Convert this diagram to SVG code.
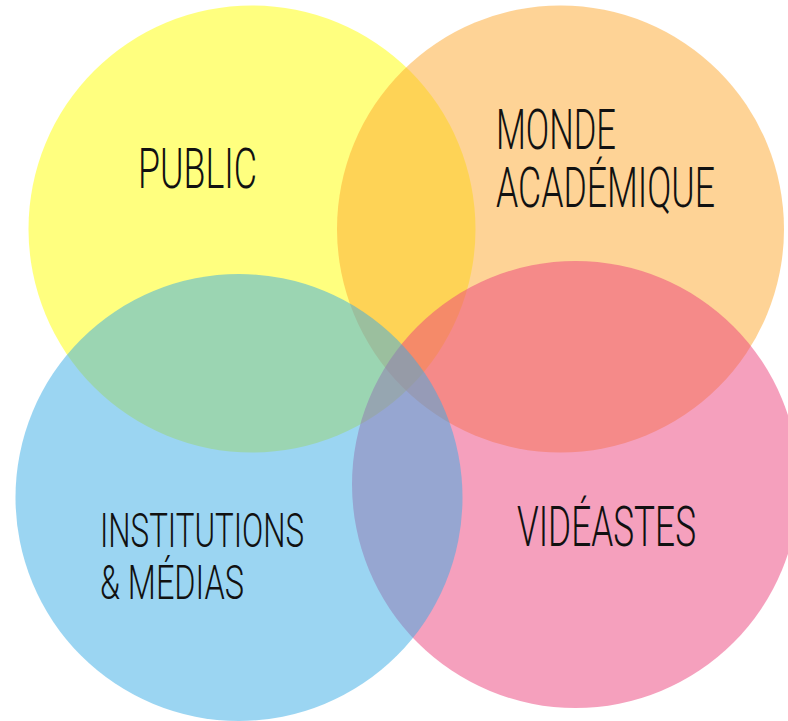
<svg xmlns="http://www.w3.org/2000/svg" width="788" height="721" viewBox="0 0 788 721">
<style>
.c{opacity:0.5}
.t{font-family:Roboto,"Liberation Sans",sans-serif;font-weight:300;fill:#111}
</style>
<rect width="788" height="721" fill="#fff"/>
<g id="public">
<circle class="c" cx="252" cy="229" r="223.5" fill="#ffff00"/>
</g>
<g id="monde-academique">
<circle class="c" cx="560.5" cy="229" r="223.5" fill="#fda72d"/>
</g>
<g id="videastes">
<circle class="c" cx="575.5" cy="484.5" r="223.5" fill="#eb417b"/>
</g>
<g id="institutions-medias">
<circle class="c" cx="239" cy="497.5" r="223.5" fill="#37abe5"/>
</g>
<g id="labels">
<text class="t" x="138" y="188" font-size="56" textLength="119" lengthAdjust="spacingAndGlyphs">PUBLIC</text>
<text class="t" x="496" y="149" font-size="55" textLength="120" lengthAdjust="spacingAndGlyphs">MONDE</text>
<text class="t" x="496" y="206.5" font-size="55" textLength="219" lengthAdjust="spacingAndGlyphs">ACADÉMIQUE</text>
<text class="t" x="100" y="546.5" font-size="48" textLength="204" lengthAdjust="spacingAndGlyphs">INSTITUTIONS</text>
<text class="t" x="100" y="599" font-size="48" textLength="144" lengthAdjust="spacingAndGlyphs">&amp; MÉDIAS</text>
<text class="t" x="517" y="546" font-size="55" textLength="179" lengthAdjust="spacingAndGlyphs">VIDÉASTES</text>
</g>
<g id="connectors"/>
</svg>
